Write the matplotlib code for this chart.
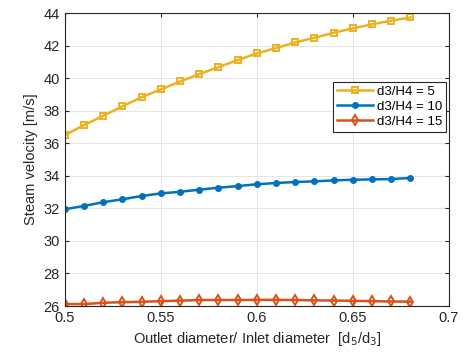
import matplotlib.pyplot as plt
import numpy as np

plt.rcParams['font.family'] = ['Liberation Sans', 'DejaVu Sans']

ratio = [0.50, 0.51, 0.52, 0.53, 0.54, 0.55, 0.56, 0.57, 0.58, 0.59,
         0.60, 0.61, 0.62, 0.63, 0.64, 0.65, 0.66, 0.67, 0.68]
v_h5 = [36.5, 37.12, 37.69, 38.27, 38.84, 39.31, 39.80, 40.25, 40.68, 41.11,
        41.52, 41.85, 42.20, 42.48, 42.79, 43.06, 43.31, 43.53, 43.73]
v_h10 = [31.95, 32.15, 32.38, 32.56, 32.76, 32.92, 33.02, 33.15, 33.27, 33.37,
         33.48, 33.56, 33.62, 33.66, 33.72, 33.76, 33.78, 33.80, 33.87]
v_h15 = [26.12, 26.12, 26.2, 26.24, 26.26, 26.3, 26.33, 26.37, 26.37, 26.37,
         26.38, 26.38, 26.37, 26.35, 26.34, 26.32, 26.3, 26.28, 26.27]
labels = ["d3/H4 = 5", "d3/H4 = 10", "d3/H4 = 15"]

fig = plt.figure(figsize=(4.7, 3.53), dpi=100)
ax = fig.add_axes([0.138, 0.133, 0.817, 0.83])

ax.plot(ratio, v_h5, "-s", color="#EDB120", lw=1.8, ms=5,
        mfc="none", mew=1.4, label=labels[0])
ax.plot(ratio, v_h10, "-o", color="#0072BD", lw=1.8, ms=4,
        mfc="#0072BD", label=labels[1])
ax.plot(ratio, v_h15, "-d", color="#D95319", lw=1.8, ms=5.5,
        mfc="none", mew=1.4, label=labels[2])

ax.set_xlim(0.5, 0.7)
ax.set_ylim(26, 44)
ax.set_xticks(np.arange(0.5, 0.701, 0.05))
ax.set_xticklabels(["0.5", "0.55", "0.6", "0.65", "0.7"])
ax.set_yticks(np.arange(26, 45, 2))
ax.tick_params(direction="in", labelsize=10.5, colors="#262626", length=3,
               top=True, right=True)
ax.grid(True, color="#e6e6e6", lw=0.8)
for s in ax.spines.values():
    s.set_color("#262626")
    s.set_linewidth(0.8)

ax.set_xlabel("Outlet diameter/ Inlet diameter  [d$_5$/d$_3$]", fontsize=10.5,
              color="#262626")
ax.set_ylabel("Steam velocity [m/s]", fontsize=10.5, color="#262626")

leg = ax.legend(loc="upper right", bbox_to_anchor=(1.0, 0.775), fontsize=9.5,
                fancybox=False, framealpha=1, edgecolor="#262626",
                handlelength=2.7, borderpad=0.3, labelspacing=0.2,
                handletextpad=0.3, borderaxespad=0.2)
leg.get_frame().set_linewidth(0.8)

fig.savefig("out.png", dpi=100)
